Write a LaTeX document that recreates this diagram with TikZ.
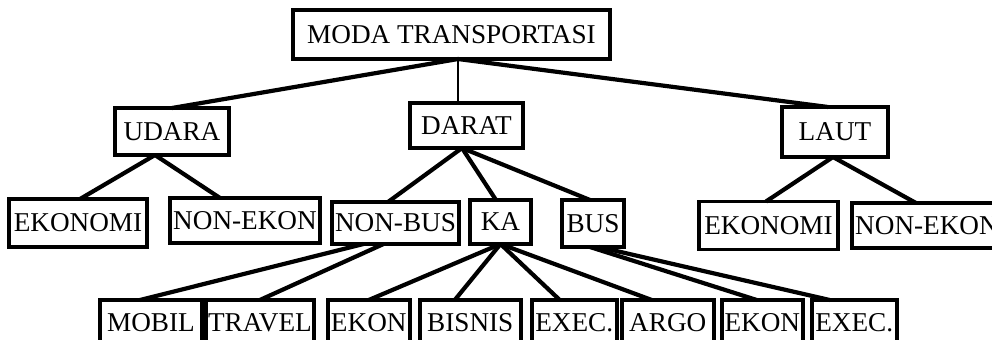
\documentclass[tikz,border=0pt]{standalone}
\usepackage{fontspec}
\setmainfont{Liberation Serif}
\usetikzlibrary{positioning}

\begin{document}
\begin{tikzpicture}[x=0.5pt, y=-0.5pt, every node/.style={draw, line width=1.9pt, inner sep=1pt, outer sep=0pt, minimum height=22.5pt, font=\fontsize{13.6}{15}\selectfont}, link/.style={line width=2.1pt}, thinlink/.style={line width=0.7pt}]
\useasboundingbox (0,0) rectangle (992,339);
\node[minimum width=158.5pt, minimum height=24.5pt] (moda) at (451.5,34.5) {MODA TRANSPORTASI};
\node[minimum width=57pt, minimum height=23.5pt] (udara) at (172,131.5) {UDARA};
\node[minimum width=56.5pt] (darat) at (466.5,125.5) {DARAT};
\node[minimum width=53pt, minimum height=25pt] (laut) at (835,132) {LAUT};
\node[minimum width=69pt, minimum height=24pt] (ekonomiU) at (78,223) {EKONOMI};
\node[minimum width=75pt] (nonekonU) at (245,220.5) {NON-EKON};
\node[minimum width=63.5pt, minimum height=21pt] (nonbus) at (395.5,223) {NON-BUS};
\node[minimum width=30.5pt, minimum height=22pt] (ka) at (500.5,222) {KA};
\node[minimum width=31pt, minimum height=23.5pt] (bus) at (593,223.5) {BUS};
\node[minimum width=69.5pt, minimum height=24pt] (ekonomiL) at (768.5,225.5) {EKONOMI};
\node[minimum width=75pt] (nonekonL) at (927,225.5) {NON-EKON};
\node[minimum width=51pt] (mobil) at (151,322.5) {MOBIL};
\node[minimum width=53.5pt, right=2pt of mobil] (travel) {TRAVEL};
\node[minimum width=41pt, right=7pt of travel] (ekonK) {EKON};
\node[minimum width=50.5pt, right=5pt of ekonK] (bisnis) {BISNIS};
\node[minimum width=42.5pt, right=5.5pt of bisnis] (execK) {EXEC.};
\node[minimum width=46pt, right=2.5pt of execK] (argo) {ARGO};
\node[minimum width=40.5pt, right=4pt of argo] (ekonB) {EKON};
\node[minimum width=42.5pt, right=4.5pt of ekonB] (execB) {EXEC.};
\draw[link] ([xshift=3.25pt]moda.south) -- (udara.north);
\draw[thinlink] ([xshift=3.25pt]moda.south) -- ([xshift=-4.25pt]darat.north);
\draw[link] ([xshift=3.25pt]moda.south) -- ([xshift=-3.5pt]laut.north);
\draw[link] ([xshift=-8.5pt]udara.south) -- ([xshift=1pt]ekonomiU.north);
\draw[link] ([xshift=-8.5pt]udara.south) -- ([xshift=-12.5pt]nonekonU.north);
\draw[link] ([xshift=-2.25pt]darat.south) -- ([xshift=-3.75pt]nonbus.north);
\draw[link] ([xshift=-2.25pt]darat.south) -- ([xshift=-2.25pt]ka.north);
\draw[link] ([xshift=-2.25pt]darat.south) -- ([xshift=-1.5pt]bus.north);
\draw[link] ([xshift=-1pt]laut.south) -- ([xshift=-1.25pt]ekonomiL.north);
\draw[link] ([xshift=-1pt]laut.south) -- ([xshift=-5.5pt]nonekonL.north);
\draw[link] ([xshift=-16pt]nonbus.south) -- ([xshift=-5.5pt]mobil.north);
\draw[link] ([xshift=-6pt]nonbus.south) -- (travel.north);
\draw[link] (ka.south) -- (ekonK.north);
\draw[link] (ka.south) -- ([xshift=-7.75pt]bisnis.north);
\draw[link] (ka.south) -- ([xshift=-7.25pt]execK.north);
\draw[link] (ka.south) -- ([xshift=-8pt]argo.north);
\draw[link] ([xshift=-1.5pt]bus.south) -- ([xshift=-2.75pt]ekonB.north);
\draw[link] ([xshift=3pt]bus.south) -- ([xshift=-12.25pt]execB.north);
\end{tikzpicture}
\end{document}
